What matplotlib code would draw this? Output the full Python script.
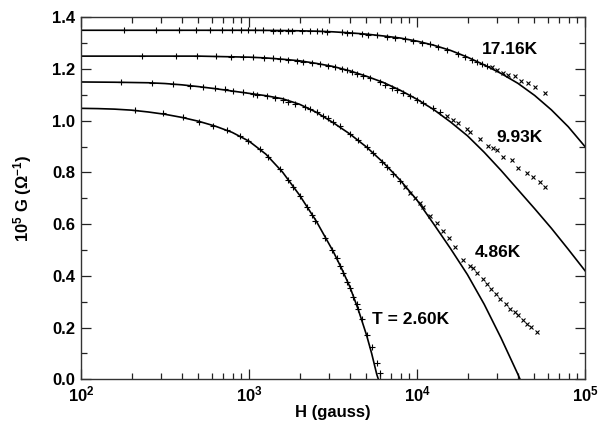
import math
import matplotlib
matplotlib.use("Agg")
import matplotlib.pyplot as plt
from matplotlib.ticker import MultipleLocator, LogLocator, NullFormatter

# ---- data (H in gauss, G in 1e-5 / ohm) ----

# fitted curves, read at fixed field values
fit_h_1716 = [100, 1000, 1259, 1585, 1995, 2512, 3162, 3981, 5012, 6310, 7943, 10000,
              12589, 15849, 19953, 25119, 31623, 39811, 50119, 63096, 79433, 100000]
fit_g_1716 = [1.35, 1.35, 1.3495, 1.349, 1.348, 1.3465, 1.344, 1.340, 1.335, 1.328,
              1.320, 1.308, 1.292, 1.272, 1.246, 1.216, 1.183, 1.145, 1.098, 1.042,
              0.977, 0.90]

fit_h_993 = [100, 501, 1000, 1259, 1585, 1995, 2512, 3162, 3981, 5012, 6310, 7943,
             10000, 12589, 15849, 19953, 25119, 31623, 39811, 50119, 63096, 79433, 100000]
fit_g_993 = [1.25, 1.25, 1.246, 1.243, 1.238, 1.232, 1.222, 1.21, 1.193, 1.172, 1.148,
             1.118, 1.083, 1.043, 0.995, 0.942, 0.878, 0.808, 0.734, 0.66, 0.584,
             0.503, 0.42]

fit_h_486 = [100, 158, 251, 316, 398, 501, 631, 794, 1000, 1259, 1585, 1995, 2512,
             3162, 3981, 5012, 6310, 7943, 10000, 12589, 15849, 19953, 25119, 31623,
             39811, 41687]
fit_g_486 = [1.15, 1.149, 1.147, 1.144, 1.139, 1.132, 1.124, 1.115, 1.106, 1.097,
             1.085, 1.064, 1.033, 0.993, 0.949, 0.898, 0.838, 0.77, 0.693, 0.60, 0.505,
             0.405, 0.29, 0.16, 0.02, -0.01]

fit_h_260 = [100, 126, 158, 200, 251, 316, 398, 501, 631, 794, 1000, 1259, 1585, 1995,
             2512, 3162, 3548, 3981, 4467, 5012, 5370, 5754, 5888]
fit_g_260 = [1.048, 1.047, 1.045, 1.041, 1.034, 1.025, 1.013, 0.998, 0.979, 0.955,
             0.921, 0.871, 0.801, 0.713, 0.612, 0.496, 0.43, 0.358, 0.27, 0.17, 0.10,
             0.02, 0.0]

# measured points
dat_h_1716 = [181, 279, 382, 484, 586, 687, 789, 896, 991, 1087, 1205, 1394, 1530,
              1716, 1796, 2060, 2310, 2530, 2710, 2900, 3570, 3820, 4090, 4690, 5130,
              5750, 6600, 7400, 8490, 9510, 10700, 11900, 13400, 15000, 17600, 19300,
              21200, 22700, 24300, 26000]
dat_g_1716 = [1.35, 1.35, 1.35, 1.35, 1.35, 1.35, 1.35, 1.35, 1.35, 1.35, 1.35, 1.349,
              1.349, 1.349, 1.349, 1.348, 1.347, 1.346, 1.346, 1.345, 1.342, 1.341,
              1.339, 1.336, 1.333, 1.330, 1.325, 1.321, 1.315, 1.309, 1.302, 1.295,
              1.285, 1.275, 1.259, 1.248, 1.236, 1.228, 1.219, 1.211]
tail_h_1716 = [27900, 30000, 32700, 35000, 38300, 41700, 45600, 50300, 57600]
tail_g_1716 = [1.208, 1.197, 1.183, 1.178, 1.173, 1.155, 1.147, 1.131, 1.108]

dat_h_993 = [230, 367, 492, 634, 778, 925, 1062, 1229, 1383, 1530, 1716, 1922, 2100,
             2360, 2650, 2970, 3250, 3570, 3820, 4090, 4380, 4800, 5250, 6030, 6450,
             7070, 7570, 8300, 9080, 9950, 10900, 12500, 13700]
dat_g_993 = [1.25, 1.25, 1.25, 1.249, 1.248, 1.247, 1.245, 1.243, 1.241, 1.239, 1.236,
             1.233, 1.229, 1.225, 1.219, 1.213, 1.207, 1.2, 1.195, 1.189, 1.182, 1.174,
             1.164, 1.148, 1.14, 1.128, 1.12, 1.106, 1.094, 1.08, 1.068, 1.05, 1.035]
tail_h_993 = [15000, 16400, 17600, 19800, 20700, 23700, 26500, 28400, 29800, 32600,
              36600, 40100, 45000, 49200, 53900, 57800]
tail_g_993 = [1.018, 1.003, 0.992, 0.967, 0.957, 0.928, 0.902, 0.893, 0.887, 0.861,
              0.848, 0.816, 0.797, 0.783, 0.764, 0.745]

dat_h_486 = [173, 264, 355, 446, 535, 628, 720, 807, 925, 1052, 1110, 1275, 1430, 1600,
             1715, 1880, 2155, 2310, 2530, 2770, 2970, 3180, 3480, 3990, 4480, 5020,
             5500, 6170, 6600, 7230, 7920]
dat_g_486 = [1.149, 1.147, 1.142, 1.136, 1.131, 1.126, 1.121, 1.116, 1.11, 1.104, 1.101,
             1.094, 1.087, 1.079, 1.073, 1.066, 1.053, 1.045, 1.033, 1.02, 1.009, 0.996,
             0.98, 0.949, 0.925, 0.898, 0.874, 0.842, 0.823, 0.795, 0.768]
tail_h_486 = [8490, 9080, 9730, 10400, 10800, 11900, 13100, 14200, 15400, 16800, 18900,
              20700, 21600, 22800, 24800, 26200, 27400, 29500, 31200, 33900, 35800,
              38300, 40100, 42900, 45000, 47500, 52000]
tail_g_486 = [0.745, 0.722, 0.7, 0.68, 0.667, 0.632, 0.603, 0.575, 0.548, 0.512,
              0.463, 0.44, 0.431, 0.41, 0.389, 0.369, 0.35, 0.331, 0.312, 0.292, 0.273,
              0.26, 0.247, 0.228, 0.215, 0.202, 0.183]

dat_h_260 = [210, 309, 406, 506, 613, 736, 883, 991, 1162, 1303, 1530, 1715, 1837, 2015,
             2205, 2360, 2470, 2830, 3100, 3330, 3480, 3640, 3820, 3990, 4180, 4370,
             4470, 4690, 5020, 5370, 5750, 6020]
dat_g_260 = [1.04, 1.031, 1.014, 0.997, 0.978, 0.963, 0.94, 0.922, 0.892, 0.86, 0.812,
             0.772, 0.745, 0.709, 0.668, 0.637, 0.614, 0.545, 0.5, 0.468, 0.44, 0.41,
             0.378, 0.352, 0.32, 0.29, 0.27, 0.235, 0.17, 0.126, 0.062, 0.026]

fits = [(fit_h_1716, fit_g_1716), (fit_h_993, fit_g_993),
        (fit_h_486, fit_g_486), (fit_h_260, fit_g_260)]
dats = [(dat_h_1716, dat_g_1716), (dat_h_993, dat_g_993),
        (dat_h_486, dat_g_486), (dat_h_260, dat_g_260)]
tails = [(tail_h_1716, tail_g_1716), (tail_h_993, tail_g_993),
         (tail_h_486, tail_g_486)]

plt.rcParams['font.family'] = ['Liberation Sans', 'DejaVu Sans']
plt.rcParams['font.weight'] = 'bold'
plt.rcParams['mathtext.fontset'] = 'custom'
plt.rcParams['mathtext.rm'] = 'Liberation Sans:bold'
plt.rcParams['mathtext.it'] = 'Liberation Sans:bold'
plt.rcParams['mathtext.bf'] = 'Liberation Sans:bold'

fig = plt.figure(figsize=(5.98, 4.23), dpi=100)
ax = fig.add_axes([0.1355, 0.1033, 0.8428, 0.8557])

for h, g in fits:
    ax.plot(h, g, color='black', lw=1.2, solid_joinstyle='round')
for h, g in dats:
    ax.plot(h, g, ls='none', marker='+', ms=4.5, mew=0.8, color='black')
for h, g in tails:
    ax.plot(h, g, ls='none', marker='x', ms=3.2, mew=0.8, color='black')

ax.set_xscale('log')
ax.set_xlim(100, 100000)
ax.set_ylim(0, 1.4)

ax.yaxis.set_major_locator(MultipleLocator(0.2))
ax.yaxis.set_minor_locator(MultipleLocator(0.1))
ax.yaxis.set_major_formatter(plt.FuncFormatter(lambda v, p: f"{v:.1f}"))
ax.xaxis.set_major_locator(LogLocator(base=10))
ax.xaxis.set_minor_locator(LogLocator(base=10, subs=range(2, 10)))
ax.xaxis.set_minor_formatter(NullFormatter())
ax.xaxis.set_major_formatter(plt.FuncFormatter(
    lambda v, p: r"$10^{%d}$" % round(math.log10(v))))

ax.tick_params(which='both', direction='in', top=True, right=True,
               width=0.9, labelsize=12, color='#222222')
ax.tick_params(which='major', length=7, pad=4)
ax.tick_params(which='minor', length=4)
for s in ax.spines.values():
    s.set_linewidth(1.0)
    s.set_color('#333333')

ax.set_xlabel('H (gauss)', fontsize=12, fontweight='bold', labelpad=0)
ax.set_ylabel(r'$10^5$ G ($\Omega^{-1}$)', fontsize=12, fontweight='bold', labelpad=13)

ax.text(24400, 1.276, '17.16K', fontsize=12.5, fontweight='bold', va='center')
ax.text(29800, 0.935, '9.93K', fontsize=12.5, fontweight='bold', va='center')
ax.text(22100, 0.49, '4.86K', fontsize=12.5, fontweight='bold', va='center')
ax.text(5370, 0.233, 'T = 2.60K', fontsize=12.5, fontweight='bold', va='center')

fig.savefig('out.png', dpi=100)
